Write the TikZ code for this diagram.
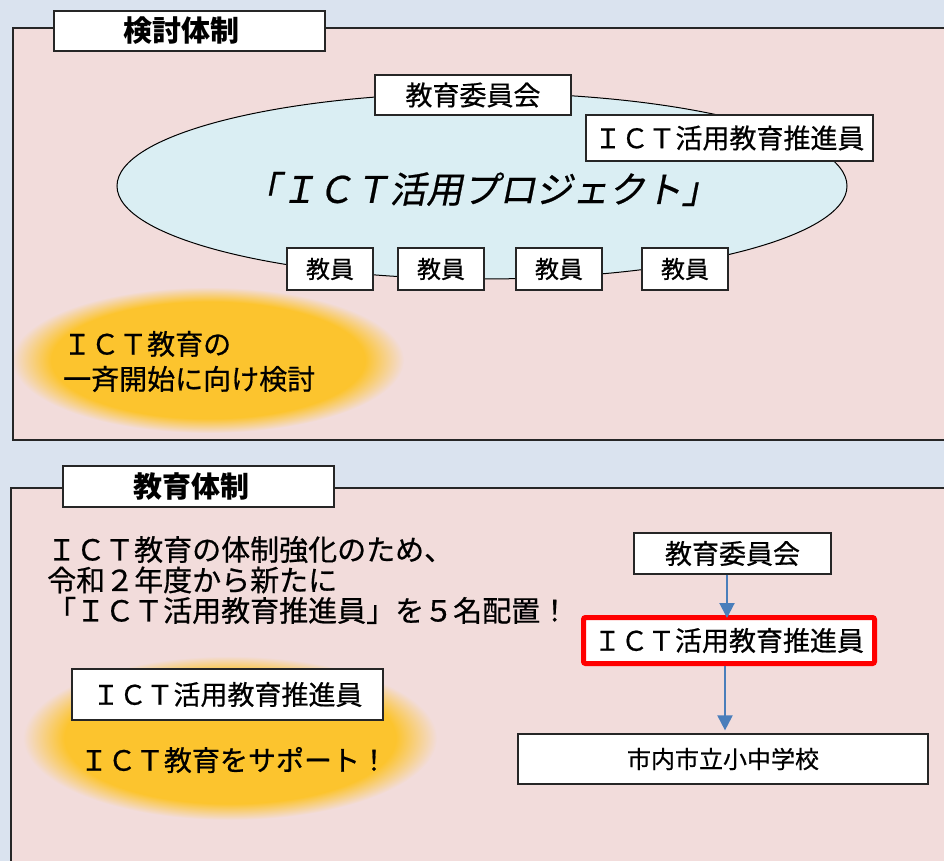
\documentclass[tikz,border=0pt]{standalone}
\usepackage{fontspec}
\setmainfont{Noto Sans CJK JP}[UprightFeatures={FakeBold=0.6}]
\newfontfamily\slantfont[FakeSlant=0.2,FakeBold=0.6]{Noto Sans CJK JP}
\usetikzlibrary{arrows.meta,shapes.geometric}

\definecolor{bgblue}{HTML}{DAE3EF}
\definecolor{panelpink}{HTML}{F2DCDB}
\definecolor{ellblue}{HTML}{DAEEF3}
\definecolor{glowy}{HTML}{FCC42E}
\definecolor{arrblue}{HTML}{4A7EBB}
\definecolor{linegray}{HTML}{262626}
\definecolor{redline}{HTML}{FF0000}

\pgfdeclareradialshading{glowshade}{\pgfpoint{0bp}{0bp}}{color(0bp)=(glowy); color(20bp)=(glowy); color(25bp)=(panelpink); color(50bp)=(panelpink)}

\newcommand{\fsz}[1]{\fontsize{#1}{#1}\selectfont}

\tikzset{
  panelfill/.style={fill=panelpink},
  panelline/.style={draw=linegray, line width=1.2pt},
  box/.style={draw=linegray, line width=1.2pt, fill=white, inner sep=0pt, text=black},
  glow/.style={shading=glowshade},
  arr/.style={draw=arrblue, line width=2pt, -{Triangle[width=15pt,length=15pt]}},
}

\begin{document}
\begin{tikzpicture}[x=1pt,y=-1pt]
\useasboundingbox (0,0) rectangle (944,861);
\clip (0,0) rectangle (944,861);
\fill[bgblue] (0,0) rectangle (944,861);

% ---------- top panel ----------
\fill[panelfill] (13,28) rectangle (970,440);
\shade[glow] (208,360) ellipse [x radius=196, y radius=73];
\draw[panelline] (13,28) rectangle (970,440);

\node[ellipse, draw=black, line width=1pt, fill=ellblue, minimum width=730, minimum height=186, inner sep=0pt] (proj) at (482,186) {};
\node[font=\fsz{36.5}\slantfont, inner sep=0pt] (projtxt) at (481,189) {「ＩＣＴ活用プロジェクト」};

\node[box, minimum width=271, minimum height=40, font=\fsz{29}\bfseries] (t1) at (189.5,31) {\hspace*{-16pt}検討体制};

\node[box, minimum width=196, minimum height=40, font=\fsz{27}] (ec1) at (473,95) {教育委員会};
\node[box, minimum width=287, minimum height=46, font=\fsz{27}] (ict1) at (729.5,138) {ＩＣＴ活用教育推進員};

\node[box, minimum width=86, minimum height=42, font=\fsz{24}] (k1) at (330,269) {教員};
\node[box, minimum width=86, minimum height=42, font=\fsz{24}] (k2) at (441,269) {教員};
\node[box, minimum width=86, minimum height=42, font=\fsz{24}] (k3) at (559,269) {教員};
\node[box, minimum width=86, minimum height=42, font=\fsz{24}] (k4) at (685,269) {教員};

\node[anchor=west, align=left, inner sep=0pt, font=\fontsize{28}{35}\selectfont] (g1txt) at (63,361.5) {ＩＣＴ教育の\\一斉開始に向け検討};

% ---------- bottom panel ----------
\fill[panelfill] (11,488) rectangle (970,890);
\shade[glow] (230,738) ellipse [x radius=207, y radius=82];
\draw[panelline] (11,488) rectangle (970,890);

\node[box, minimum width=271, minimum height=41, font=\fsz{29}\bfseries] (t2) at (198.5,486.5) {\hspace*{-15pt}教育体制};

\node[anchor=west, align=left, inner sep=0pt, font=\fontsize{29}{30.5}\selectfont] (para) at (47,580) {ＩＣＴ教育の体制強化のため、\\令和２年度から新たに\\「ＩＣＴ活用教育推進員」を５名配置！};

\node[box, minimum width=197, minimum height=41, font=\fsz{27}] (ec2) at (732.5,553.5) {教育委員会};
\node[box, draw=redline, line width=5pt, rounded corners=2pt, minimum width=291, minimum height=46, font=\fsz{27}] (red) at (729,640.5) {ＩＣＴ活用教育推進員};
\node[box, minimum width=410, minimum height=50, font=\fsz{24}] (sch) at (723,759) {市内市立小中学校};

\draw[arr, shorten >=-3pt] ([xshift=-5.5pt]ec2.south) -- ([xshift=-5.5pt]ec2.south |- red.north);
\draw[arr, shorten >=3pt] ([xshift=-4pt]red.south) -- ([xshift=-4pt]red.south |- sch.north);

\node[box, minimum width=311, minimum height=51, font=\fsz{27}] (ict2) at (227.5,694.5) {ＩＣＴ活用教育推進員};
\node[inner sep=0pt, font=\fsz{28}] (sup) at (234,760) {ＩＣＴ教育をサポート！};
\end{tikzpicture}
\end{document}
